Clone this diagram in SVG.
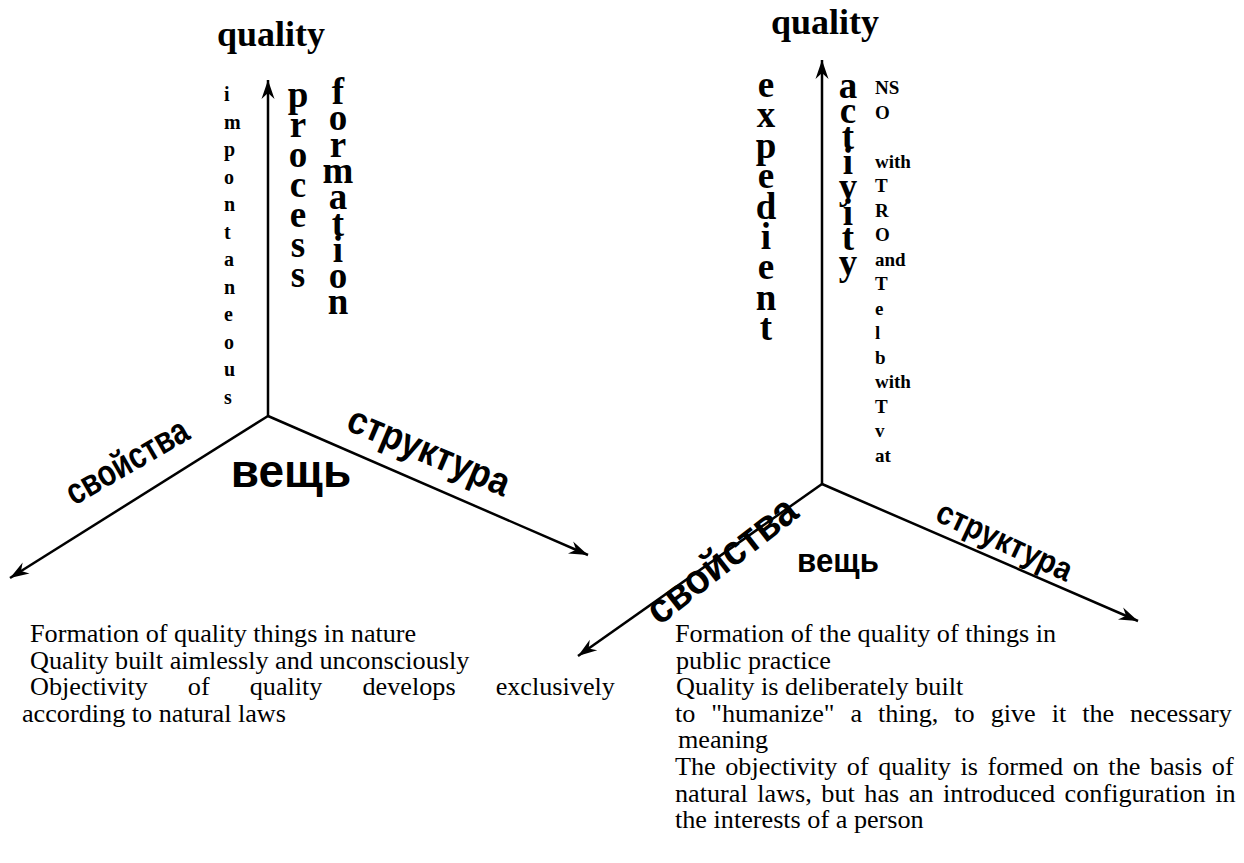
<svg xmlns="http://www.w3.org/2000/svg" width="1244" height="863" viewBox="0 0 1244 863">
<style>
.ax{stroke:#000;stroke-width:2.5;fill:none;marker-end:url(#ah)}
.q{font-family:"Liberation Serif",serif;font-weight:bold;font-size:36px;text-anchor:middle}
.vb{font-family:"Liberation Serif",serif;font-weight:bold;font-size:37px;text-anchor:middle}
.vs{font-family:"Liberation Serif",serif;font-weight:bold;font-size:20px}
.vs2{font-family:"Liberation Serif",serif;font-weight:bold;font-size:19px}
.cy{font-family:"Liberation Sans",Arial,sans-serif;font-weight:bold;text-anchor:middle}
.bt{font-family:"Liberation Serif",serif;font-size:26.2px}
</style>
<defs>
<marker id="ah" markerUnits="userSpaceOnUse" markerWidth="22" markerHeight="16" refX="19" refY="8" orient="auto">
<path d="M0,1.5 L19,8 L0,14.5 L6,8 Z" fill="#000"/>
</marker>
</defs>
<g id="connectors">
<line class="ax" x1="268" y1="416" x2="268" y2="80"/>
<line class="ax" x1="268" y1="416" x2="10" y2="578"/>
<line class="ax" x1="268" y1="416" x2="588" y2="555"/>
<line class="ax" x1="822" y1="484" x2="822" y2="60"/>
<line class="ax" x1="822" y1="484" x2="578" y2="656"/>
<line class="ax" x1="822" y1="484" x2="1138" y2="621"/>
</g>
<g id="left-quality"><text class="q" x="271" y="46">quality</text></g>
<g id="left-impontaneous"><text class="vs">
<tspan x="224" y="101">i</tspan><tspan x="224" y="128.5">m</tspan><tspan x="224" y="156">p</tspan><tspan x="224" y="183.5">o</tspan><tspan x="224" y="211">n</tspan><tspan x="224" y="238.5">t</tspan><tspan x="224" y="266">a</tspan><tspan x="224" y="293.5">n</tspan><tspan x="224" y="321">e</tspan><tspan x="224" y="348.5">o</tspan><tspan x="224" y="376">u</tspan><tspan x="224" y="403.5">s</tspan>
</text></g>
<g id="left-process"><text class="vb">
<tspan x="298" y="107">p</tspan><tspan x="298" y="137">r</tspan><tspan x="298" y="167">o</tspan><tspan x="298" y="197">c</tspan><tspan x="298" y="227">e</tspan><tspan x="298" y="257">s</tspan><tspan x="298" y="287">s</tspan>
</text></g>
<g id="left-formation"><text class="vb">
<tspan x="338" y="104">f</tspan><tspan x="338" y="130.3">o</tspan><tspan x="338" y="156.6">r</tspan><tspan x="338" y="182.9">m</tspan><tspan x="338" y="209.2">a</tspan><tspan x="338" y="235.5">t</tspan><tspan x="338" y="261.8">i</tspan><tspan x="338" y="288.1">o</tspan><tspan x="338" y="314.4">n</tspan>
</text></g>
<g id="left-svoistva"><text class="cy" font-size="37" transform="translate(133,472) rotate(-30) scale(0.8,1)">свойства</text></g>
<g id="left-struktura"><text class="cy" font-size="39" transform="translate(424,463) rotate(23) scale(0.9,1)">структура</text></g>
<g id="left-veshch"><text class="cy" font-size="46" x="291" y="487">вещь</text></g>

<g id="right-quality"><text class="q" x="825" y="34">quality</text></g>
<g id="right-expedient"><text class="vb">
<tspan x="766" y="97">e</tspan><tspan x="766" y="127.4">x</tspan><tspan x="766" y="157.8">p</tspan><tspan x="766" y="188.2">e</tspan><tspan x="766" y="218.6">d</tspan><tspan x="766" y="249">i</tspan><tspan x="766" y="279.4">e</tspan><tspan x="766" y="309.8">n</tspan><tspan x="766" y="340.2">t</tspan>
</text></g>
<g id="right-activity"><text class="vb">
<tspan x="848" y="98">a</tspan><tspan x="848" y="123.3">c</tspan><tspan x="848" y="148.6">t</tspan><tspan x="848" y="173.9">i</tspan><tspan x="848" y="199.2">y</tspan><tspan x="848" y="224.5">i</tspan><tspan x="848" y="249.8">t</tspan><tspan x="848" y="275">y</tspan>
</text></g>
<g id="right-nso"><text class="vs2">
<tspan x="875" y="94">NS</tspan><tspan x="875" y="118.5">O</tspan><tspan x="875" y="167.5">with</tspan><tspan x="875" y="192">T</tspan><tspan x="875" y="216.5">R</tspan><tspan x="875" y="241">O</tspan><tspan x="875" y="265.5">and</tspan><tspan x="875" y="290">T</tspan><tspan x="875" y="314.5">e</tspan><tspan x="875" y="339">l</tspan><tspan x="875" y="363.5">b</tspan><tspan x="875" y="388">with</tspan><tspan x="875" y="412.5">T</tspan><tspan x="875" y="437">v</tspan><tspan x="875" y="461.5">at</tspan>
</text></g>
<g id="right-svoistva"><text class="cy" font-size="42" transform="translate(730,571) rotate(-38) scale(0.93,1)">свойства</text></g>
<g id="right-struktura"><text class="cy" font-size="33" transform="translate(1000,551) rotate(25) scale(0.9,1)">структура</text></g>
<g id="right-veshch"><text class="cy" font-size="34" transform="translate(838,572) scale(0.92,1)">вещь</text></g>

<g id="left-caption" class="bt">
<text x="30" y="642">Formation of quality things in nature</text>
<text x="30" y="668.5">Quality built aimlessly and unconsciously</text>
<text x="30" y="695" word-spacing="33.5">Objectivity of quality develops exclusively</text>
<text x="22" y="721.5">according to natural laws</text>
</g>
<g id="right-caption" class="bt">
<text x="675" y="642">Formation of the quality of things in</text>
<text x="676" y="668.6">public practice</text>
<text x="676" y="695.2">Quality is deliberately built</text>
<text x="675" y="721.8" word-spacing="9.4">to "humanize" a thing, to give it the necessary</text>
<text x="678" y="748.4">meaning</text>
<text x="675" y="775" word-spacing="3">The objectivity of quality is formed on the basis of</text>
<text x="675" y="801.6" word-spacing="3">natural laws, but has an introduced configuration in</text>
<text x="675" y="828.2">the interests of a person</text>
</g>
</svg>
